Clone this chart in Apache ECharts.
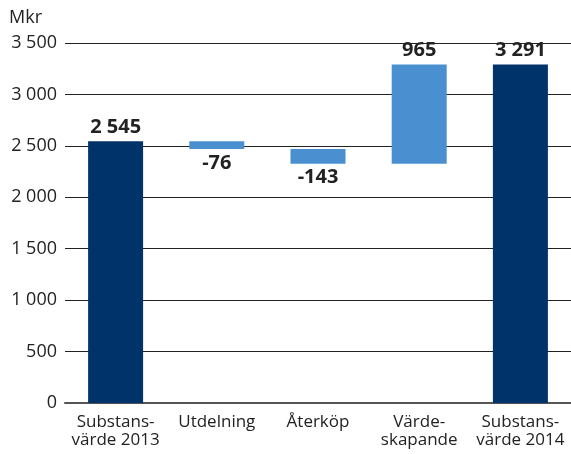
<!DOCTYPE html>
<html>
<head>
<meta charset="utf-8">
<script src="https://cdn.jsdelivr.net/npm/echarts@6/dist/echarts.min.js"></script>
<style>
html,body{margin:0;padding:0;background:#fff;}
#chart{width:571px;height:454px;}
</style>
</head>
<body>
<div id="chart"></div>
<script>
var categories = ["Substans-\nvärde 2013", "Utdelning", "Återköp", "Värde-\nskapande", "Substans-\nvärde 2014"];
var changes = [2545, -76, -143, 965, 3291];
var isTotal = [true, false, false, false, true];
var yTicks = [0, 500, 1000, 1500, 2000, 2500, 3000, 3500];

var dark = "#00336a", light = "#4a8fcf";

function fmt(v){
	var s = String(Math.abs(v));
	s = s.replace(/\B(?=(\d{3})+(?!\d))/g, " ");
	return (v < 0 ? "-" : "") + s;
}

// waterfall: invisible base + visible bar
var base = [], bars = [];
var run = 0;
for (var i = 0; i < changes.length; i++) {
	var v = changes[i];
	if (isTotal[i]) {
		base.push(0);
		bars.push({value: v, itemStyle: {color: dark}, label: {position: "top"}});
		run = v;
	} else {
		var lo = v < 0 ? run + v : run;
		base.push(lo);
		bars.push({value: Math.abs(v), itemStyle: {color: light}, label: {position: v < 0 ? "bottom" : "top"}});
		run += v;
	}
}

var chart = echarts.init(document.getElementById("chart"));
chart.setOption({
	animation: false,
	textStyle: {fontFamily: "Open Sans"},
	grid: {left: 65, right: 0, top: 43, bottom: 51, containLabel: false},
	graphic: [{
		type: "text", left: 9, top: 9,
		style: {text: "Mkr", font: "18px 'Open Sans'", fill: "#222"}
	}],
	xAxis: {
		type: "category",
		data: categories,
		axisTick: {show: false},
		axisLine: {lineStyle: {color: "#555", width: 2}},
		axisLabel: {color: "#222", fontSize: 17, lineHeight: 18, margin: 10, interval: 0}
	},
	yAxis: {
		type: "value",
		min: 0, max: 3500, interval: 500,
		axisLine: {show: false},
		axisTick: {show: false},
		splitLine: {lineStyle: {color: "#222", width: 1}},
		axisLabel: {color: "#222", fontSize: 18, margin: 8,
			formatter: function(v){ return yTicks.indexOf(v) >= 0 ? fmt(v) : ""; }}
	},
	series: [{
		type: "bar", stack: "w", data: base,
		itemStyle: {color: "transparent"}, silent: true
	}, {
		type: "bar", stack: "w", data: bars, barWidth: 55,
		label: {
			show: true, color: "#222", fontSize: 20, fontWeight: "bold", distance: 4,
			formatter: function(p){ return fmt(changes[p.dataIndex]); }
		}
	}]
});
</script>
</body>
</html>
